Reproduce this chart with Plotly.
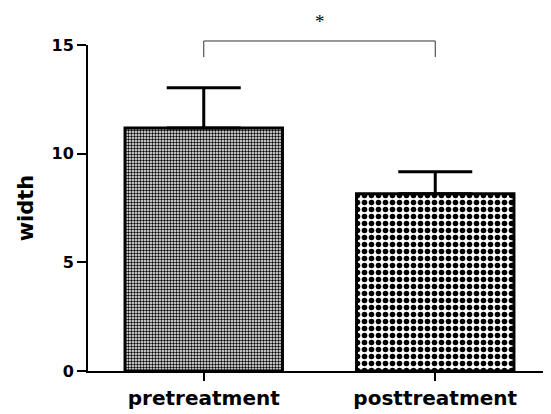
import plotly.graph_objects as go

categories = ["pretreatment", "posttreatment"]
means = [11.18, 8.15]
errors = [1.85, 1.02]
patterns = [3, 7]
y_ticks = [0, 5, 10, 15]
sig_label = "*"

fig = go.Figure()
for i, cat in enumerate(categories):
    fig.add_trace(go.Bar(
        x=[cat], y=[means[i]],
        width=0.68,
        marker=dict(
            color="white",
            line=dict(color="black", width=3),
            pattern=dict(shape=".", size=patterns[i], solidity=0.5,
                         fgcolor="black", bgcolor="white", fillmode="replace"),
        ),
        error_y=dict(type="data", array=[errors[i]], arrayminus=[0], symmetric=False,
                     color="black", thickness=3, width=37),
        showlegend=False,
    ))

# significance bracket
fig.add_shape(type="path", xref="x", yref="paper",
              path="M 0,0.963 L 0,1.0123 L 1,1.0123 L 1,0.963",
              line=dict(color="#333333", width=1))
fig.add_annotation(x=0.5, xref="x", y=1.11, yref="paper", yanchor="top", text=sig_label,
                   showarrow=False, font=dict(family="Liberation Serif", size=19, color="black"))

# page body has an 8px margin, so the figure is offset by 8px
fig.update_layout(
    width=543, height=406,
    margin=dict(l=80, r=0, t=37, b=43),
    plot_bgcolor="white", paper_bgcolor="white",
    font=dict(family="DejaVu Sans", color="black"),
    xaxis=dict(
        range=[-0.5, 1.5], showline=True, linecolor="black", linewidth=2,
        ticks="outside", ticklen=8, tickwidth=2, tickcolor="black",
        showgrid=False, zeroline=False,
        tickfont=dict(family="DejaVu Sans", size=20, weight="bold"),
    ),
    yaxis=dict(
        range=[0, 15], tickvals=y_ticks, showline=True, linecolor="black", linewidth=2,
        ticks="outside", ticklen=9, tickwidth=2, tickcolor="black",
        showgrid=False, zeroline=False,
        tickfont=dict(family="DejaVu Sans", size=16, weight="bold"),
        title=dict(text="width", font=dict(family="DejaVu Sans", size=21, weight="bold"), standoff=12),
    ),
)

fig.write_html("out.html")
